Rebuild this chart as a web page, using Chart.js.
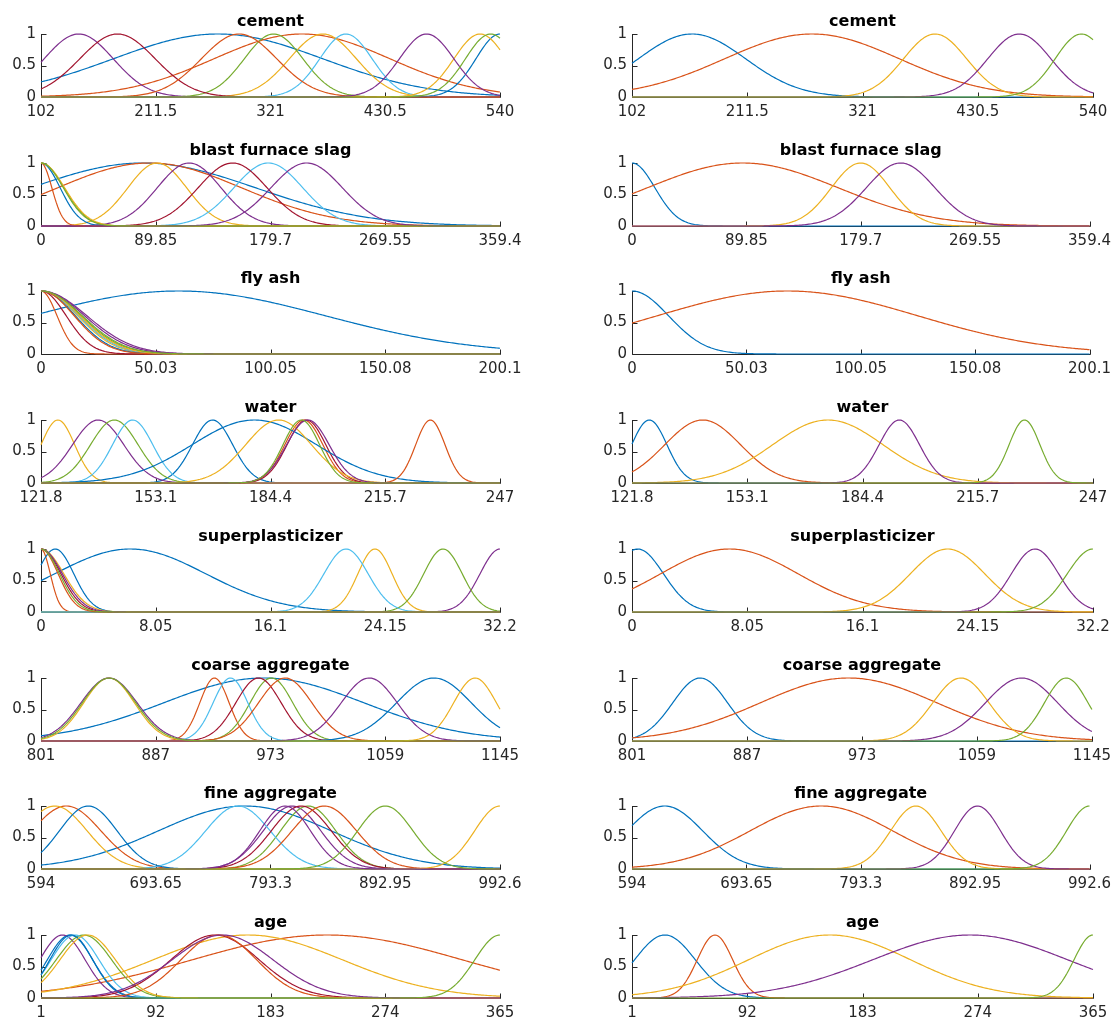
<!DOCTYPE html>
<html><head><meta charset="utf-8">
<script src="https://cdn.jsdelivr.net/npm/chart.js@4.4.0/dist/chart.umd.min.js"></script>
<style>
html,body{margin:0;padding:0;background:#fff;}
#wrap{position:relative;width:1117px;height:1026px;overflow:hidden;background:#fff;}
canvas{position:absolute;}
</style></head><body><div id="wrap"></div>
<script>
// MATLAB default line colour order (membership function i uses colour i mod 7)
const mfColors = ['#0072BD','#D95319','#EDB120','#7E2F8E','#77AC30','#4DBEEE','#A2142F'];

const variableNames = ['cement','blast furnace slag','fly ash','water','superplasticizer','coarse aggregate','fine aggregate','age'];
const xMins = [102, 0, 0, 121.8, 0, 801, 594, 1];
const xMaxs = [540, 359.4, 200.1, 247, 32.2, 1145, 992.6, 365];

const cementTicks = ['102','211.5','321','430.5','540'];
const slagTicks = ['0','89.85','179.7','269.55','359.4'];
const flyAshTicks = ['0','50.03','100.05','150.08','200.1'];
const waterTicks = ['121.8','153.1','184.4','215.7','247'];
const superTicks = ['0','8.05','16.1','24.15','32.2'];
const coarseTicks = ['801','887','973','1059','1145'];
const fineTicks = ['594','693.65','793.3','892.95','992.6'];
const ageTicks = ['1','92','183','274','365'];
const yTicks = [0, 0.5, 1];

// Gaussian membership function parameters (centre, sigma)
// Left column: 12 MFs per input
const cementLeftCenters = [271, 351, 371, 138, 324, 393, 175, 540, 291, 521, 470, 531];
const cementLeftSigmas  = [100, 84, 32, 33, 28, 25, 36, 23, 36, 25, 26, 24];
const slagLeftCenters = [80, 85, 91, 116, 0, 178, 150, 0, 0, 0, 208, 0];
const slagLeftSigmas  = [88, 72, 23, 25, 18, 27, 27, 15, 8.5, 18.5, 28, 17.5];
const flyAshLeftCenters = [60, 0, 0, 0, 0, 0, 0, 0, 0, 0, 0, 0];
const flyAshLeftSigmas  = [64, 7, 16, 20, 17.5, 16.5, 11, 15, 14.5, 17, 19, 18];
const waterLeftCenters = [168.6, 193.5, 126.4, 137.4, 141.8, 146.8, 194.2, 180, 228, 186.6, 194.6, 192.8];
const waterLeftSigmas  = [5.5, 5.2, 4.6, 7, 6.5, 5.5, 5.3, 17, 4, 9, 5.8, 5];
const superLeftCenters = [6.26, 0, 23.43, 32.2, 28.2, 21.4, 0, 1.0, 0, 0, 0, 0];
const superLeftSigmas  = [5.3, 0.65, 1.2, 1.4, 1.35, 1.55, 1.4, 1.3, 1.2, 1.6, 1.5, 1.3];
const coarseLeftCenters = [968, 931, 852, 852, 973.7, 943, 964, 1095.5, 984, 1126.3, 1047, 852];
const coarseLeftSigmas  = [75, 11, 19, 21, 16, 13, 17, 28, 20, 16, 21, 20];
const fineLeftCenters = [771, 616, 606, 812, 826, 765, 820, 635, 840, 992.6, 806, 893];
const fineLeftSigmas  = [75, 30, 28, 25, 24, 28, 26, 25, 28, 22, 22, 24];
const ageLeftCenters = [24, 228, 165, 18, 35, 28, 139, 25, 142, 38, 145, 365];
const ageLeftSigmas  = [18, 107, 75, 18, 22, 19, 35, 17, 30, 22, 40, 20];

// Right column: 5 MFs per input (some lie along zero and are not visible)
const cementRightCenters = [159, 273, 390, 470, 529];
const cementRightSigmas  = [51, 83, 30, 30, 25];
const slagRightCenters = [0, 87, 179.6, 211];
const slagRightSigmas  = [18, 75, 23, 27];
const flyAshRightCenters = [0, 68];
const flyAshRightSigmas  = [16, 57];
const waterRightCenters = [126.5, 141, 175, 194.4, 228.4];
const waterRightSigmas  = [4.8, 10.3, 15, 5.5, 4.2];
const superRightCenters = [0.4, 6.8, 22.04, 28.15, 32.2];
const superRightSigmas  = [1.8, 4.8, 2.6, 1.65, 1.8];
const coarseRightCenters = [852, 963, 1047, 1092.4, 1125.8];
const coarseRightSigmas  = [20.5, 66, 21, 27, 16.3];
const fineRightCenters = [622.5, 759, 841.3, 895, 992.6];
const fineRightSigmas  = [33, 62, 22, 20, 20];
const ageRightCenters = [27, 66.5, 157, 268, 365];
const ageRightSigmas  = [24, 14, 64, 77, 15];

const tickLabelSets = [cementTicks, slagTicks, flyAshTicks, waterTicks, superTicks, coarseTicks, fineTicks, ageTicks];
const leftParams = [
  [cementLeftCenters, cementLeftSigmas], [slagLeftCenters, slagLeftSigmas],
  [flyAshLeftCenters, flyAshLeftSigmas], [waterLeftCenters, waterLeftSigmas],
  [superLeftCenters, superLeftSigmas], [coarseLeftCenters, coarseLeftSigmas],
  [fineLeftCenters, fineLeftSigmas], [ageLeftCenters, ageLeftSigmas]];
const rightParams = [
  [cementRightCenters, cementRightSigmas], [slagRightCenters, slagRightSigmas],
  [flyAshRightCenters, flyAshRightSigmas], [waterRightCenters, waterRightSigmas],
  [superRightCenters, superRightSigmas], [coarseRightCenters, coarseRightSigmas],
  [fineRightCenters, fineRightSigmas], [ageRightCenters, ageRightSigmas]];

const FONT = "'DejaVu Sans', 'Liberation Sans', sans-serif";
const AXIS_COLOR = '#262626';

const axesPlugin = {
  id: 'matlabAxes',
  beforeDatasetsDraw(chart, args, opts) {
    const {ctx, chartArea: a, scales} = chart;
    ctx.save();
    ctx.strokeStyle = AXIS_COLOR;
    ctx.lineWidth = 1;
    ctx.beginPath();
    const L = Math.round(a.left) + 0.5, B = Math.round(a.bottom) + 0.5;
    ctx.moveTo(L, Math.round(a.top));
    ctx.lineTo(L, B);
    ctx.lineTo(Math.round(a.right) + 0.5, B);
    // inward ticks
    scales.x.ticks.forEach(t => {
      const px = Math.round(scales.x.getPixelForValue(t.value)) + 0.5;
      ctx.moveTo(px, B); ctx.lineTo(px, B - 5);
    });
    scales.y.ticks.forEach(t => {
      const py = Math.round(scales.y.getPixelForValue(t.value)) + 0.5;
      ctx.moveTo(L, py); ctx.lineTo(L + 5, py);
    });
    ctx.stroke();
    ctx.restore();
  },
  afterDraw(chart, args, opts) {
    const {ctx, chartArea: a} = chart;
    ctx.save();
    ctx.font = 'bold 16px ' + FONT;
    ctx.fillStyle = '#000';
    ctx.textAlign = 'center';
    ctx.textBaseline = 'middle';
    ctx.fillText(opts.title, (a.left + a.right) / 2, a.top - 12);
    ctx.restore();
  }
};

function gaussCurve(c, s, lo, hi) {
  const pts = [], N = 300;
  for (let k = 0; k <= N; k++) {
    const x = lo + (hi - lo) * k / N;
    pts.push({x: x, y: Math.exp(-((x - c) * (x - c)) / (2 * s * s))});
  }
  return pts;
}

const wrap = document.getElementById('wrap');
const ROW_PITCH = 128.7;

function makePanel(row, col) {
  const [centers, sigmas] = (col === 0 ? leftParams : rightParams)[row];
  const labels = tickLabelSets[row];
  const lo = xMins[row], hi = xMaxs[row];
  const tickVals = labels.map(parseFloat);
  const cv = document.createElement('canvas');
  const left = col === 0 ? 0 : 590;
  const width = col === 0 ? 540 : 527;
  const yAxisW = col === 0 ? 41 : 42;
  const padR = col === 0 ? 40 : 24;
  const height = 128;
  cv.width = width; cv.height = height;
  cv.style.left = left + 'px';
  cv.style.top = Math.round(row * ROW_PITCH) + 'px';
  cv.style.width = width + 'px'; cv.style.height = height + 'px';
  wrap.appendChild(cv);
  const n = centers.length;
  const datasets = centers.map((c, i) => ({
    data: gaussCurve(c, sigmas[i], lo, hi),
    borderColor: mfColors[i % 7],
    borderWidth: 1.2,
    pointRadius: 0,
    fill: false,
    tension: 0,
    clip: 3,
    order: n - i
  }));
  new Chart(cv, {
    type: 'line',
    data: {datasets},
    options: {
      responsive: false, animation: false, devicePixelRatio: 1,
      events: [],
      layout: {padding: {top: 34, right: padR, left: 0, bottom: 0}},
      plugins: {legend: {display: false}, tooltip: {enabled: false}, title: {display: false},
                matlabAxes: {title: variableNames[row]}},
      scales: {
        x: {
          type: 'linear', min: lo, max: hi,
          grid: {display: false, drawTicks: false}, border: {display: false},
          afterBuildTicks: s => { s.ticks = tickVals.map(v => ({value: v})); },
          afterFit: s => { s.height = 31; },
          ticks: {autoSkip: false, maxRotation: 0, minRotation: 0, padding: 6,
                  font: {family: FONT, size: 15}, color: AXIS_COLOR,
                  callback: (v, i) => labels[i]}
        },
        y: {
          type: 'linear', min: 0, max: 1,
          grid: {display: false, drawTicks: false}, border: {display: false},
          afterBuildTicks: s => { s.ticks = yTicks.map(v => ({value: v})); },
          afterFit: s => { s.width = yAxisW; },
          ticks: {padding: 5, font: {family: FONT, size: 15}, color: AXIS_COLOR,
                  callback: v => String(v)}
        }
      }
    },
    plugins: [axesPlugin]
  });
}

for (let r = 0; r < 8; r++) { makePanel(r, 0); makePanel(r, 1); }
</script></body></html>
